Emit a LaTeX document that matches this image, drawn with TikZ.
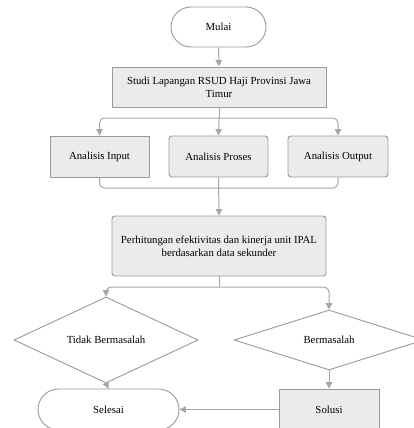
\documentclass[tikz,border=0pt]{standalone}
\usepackage{fontspec}
\setmainfont{Liberation Serif}
\usetikzlibrary{shapes.geometric,shapes.misc,arrows.meta}
\definecolor{boxfill}{HTML}{EBEBEB}
\definecolor{edge}{HTML}{9A9A9A}
\definecolor{conn}{HTML}{A6A6A6}
\tikzset{
  base/.style={draw=edge, line width=0.9pt, font=\fontsize{10.8}{13}\selectfont, align=center, inner sep=2pt},
  term/.style={base, fill=white, rounded rectangle},
  procbox/.style={base, fill=boxfill},
  decbox/.style={base, fill=white, diamond, inner sep=0pt},
  link/.style={draw=conn, line width=1pt, rounded corners=5pt, -{Triangle[length=6.5pt,width=6.5pt]}},
  plain/.style={draw=conn, line width=1pt, rounded corners=5pt},
}
\begin{document}
\begin{tikzpicture}[x=1pt,y=-1pt]
\useasboundingbox (0,0) rectangle (414,428);
\node[term, minimum width=99pt, minimum height=40pt] (mulai) at (218.5,27) {Mulai};
\node[procbox, minimum width=214pt, minimum height=40pt] (studi) at (219,87) {Studi Lapangan RSUD Haji Provinsi Jawa\\Timur};
\node[procbox, minimum width=99pt, minimum height=41pt] (input) at (99.5,156.5) {Analisis Input};
\node[procbox, rounded corners=3pt, minimum width=99pt, minimum height=41pt] (proses) at (218.5,156.5) {Analisis Proses};
\node[procbox, rounded corners=3pt, minimum width=100pt, minimum height=41pt] (output) at (338,156.5) {Analisis Output};
\node[procbox, rounded corners=3pt, minimum width=214pt, minimum height=60pt] (hitung) at (219,246) {Perhitungan efektivitas dan kinerja unit IPAL\\berdasarkan data sekunder};
\node[decbox, minimum width=184pt, minimum height=56pt] (tidak) at (106,340) {Tidak Bermasalah};
\node[decbox, minimum width=190pt, minimum height=60pt] (masalah) at (329,340) {Bermasalah};
\node[term, minimum width=145pt, minimum height=41pt] (selesai) at (108.5,409.5) {Selesai};
\node[procbox, minimum width=100pt, minimum height=41pt] (solusi) at (329,409.5) {Solusi};

\coordinate (j1) at (219,118);
\coordinate (j2) at (219,188);
\coordinate (j3) at (219,287);

\draw[link] (mulai) -- (studi);
\draw[plain] (studi.south) -- (j1);
\draw[link] (j1) -| (input.north);
\draw[link] (j1) -| (output.north);
\draw[link] (j1) -- (proses.north);
\draw[plain] (input.south) |- (j2);
\draw[plain] (output.south) |- (j2);
\draw[link] (proses.south) -- (hitung.north);
\draw[plain] (hitung.south) -- (j3);
\draw[link] (j3) -| (tidak.north);
\draw[link] (j3) -| (masalah.north);
\draw[link] (tidak.south) -- (selesai.north);
\draw[link] (masalah.south) -- (solusi.north);
\draw[link] (solusi.west) -- (selesai.east);
\end{tikzpicture}
\end{document}
